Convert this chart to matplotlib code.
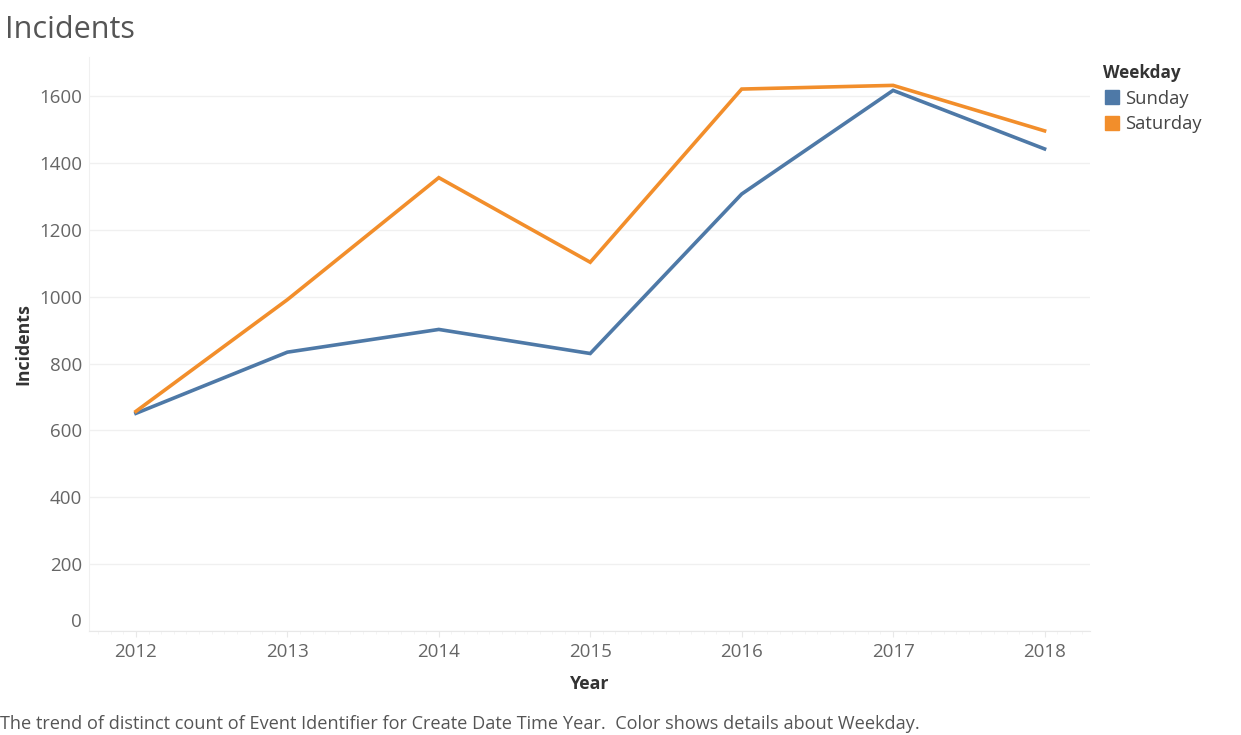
import matplotlib.pyplot as plt
from matplotlib.lines import Line2D
from matplotlib.ticker import MultipleLocator
import matplotlib.transforms as mtransforms

plt.switch_backend('agg')
plt.rcParams['font.family'] = ['Open Sans', 'DejaVu Sans']

years = [2012, 2013, 2014, 2015, 2016, 2017, 2018]
sunday = [651, 834, 902, 830, 1307, 1617, 1442]
saturday = [657, 991, 1356, 1103, 1621, 1632, 1496]
series_names = ["Sunday", "Saturday"]
colors = ["#4e79a7", "#f28e2b"]
y_ticks = [0, 200, 400, 600, 800, 1000, 1200, 1400, 1600]

GRID = "#f0f0f0"
TICK_COLOR = "#666666"


def main():
    fig = plt.figure(figsize=(12.41, 7.35), dpi=100)
    ax = fig.add_axes([0.0717, 0.1415, 0.8066, 0.781])

    ax.plot(years, sunday, color=colors[0], lw=2.6, solid_joinstyle='miter')
    ax.plot(years, saturday, color=colors[1], lw=2.6, solid_joinstyle='miter')

    ax.set_xlim(2011.69, 2018.30)
    ax.set_ylim(0, 1717)
    ax.set_xticks(years)
    ax.set_xticklabels([str(y) for y in years])
    ax.xaxis.set_minor_locator(MultipleLocator(1 / 12))
    ax.set_yticks(y_ticks)

    for s in ["top", "right"]:
        ax.spines[s].set_visible(False)
    ax.spines["left"].set_color(GRID)
    ax.spines["bottom"].set_color("#e8e8e8")
    ax.grid(axis="y", color=GRID, lw=1)
    ax.set_axisbelow(True)

    ax.tick_params(axis="y", length=0, labelsize=13.5, labelcolor=TICK_COLOR, pad=5)
    ax.tick_params(axis="x", which="major", length=4, color="#e8e8e8",
                   labelsize=13.5, labelcolor=TICK_COLOR, pad=5)
    ax.tick_params(axis="x", which="minor", length=2.5, color="#f2f2f2")

    # tableau pushes the bottom label up a bit
    lab0 = ax.get_yticklabels()[0]
    lab0.set_transform(lab0.get_transform() +
                       mtransforms.ScaledTranslation(0, 11 / 100, fig.dpi_scale_trans))

    ax.set_ylabel("Incidents", fontsize=12.8, fontweight="bold", color="#333333", labelpad=5)
    ax.set_xlabel("Year", fontsize=12.8, fontweight="bold", color="#333333", labelpad=10)

    fig.text(0.004, 0.959, "Incidents", fontsize=22, color="#555555",
             fontweight="normal", va="center", ha="left")
    fig.text(0.0, 0.015, "The trend of distinct count of Event Identifier for Create Date Time Year.  "
             "Color shows details about Weekday.", fontsize=13.1, color="#555555",
             ha="left", va="center")

    handles = [Line2D([], [], marker="s", ls="", markersize=10.5, color=c) for c in colors]
    leg = fig.legend(handles, series_names, title="Weekday", loc="upper left",
                     bbox_to_anchor=(0.8825, 0.923), frameon=False, fontsize=13.2,
                     title_fontsize=12.3, handletextpad=0.25, labelspacing=0.42,
                     borderaxespad=0, handlelength=1.0)
    leg.get_title().set_fontweight("bold")
    leg.get_title().set_color("#333333")
    leg._legend_box.align = "left"
    for t in leg.get_texts():
        t.set_color("#444444")

    fig.savefig("out.png", dpi=100)


if __name__ == '__main__':
    main()
